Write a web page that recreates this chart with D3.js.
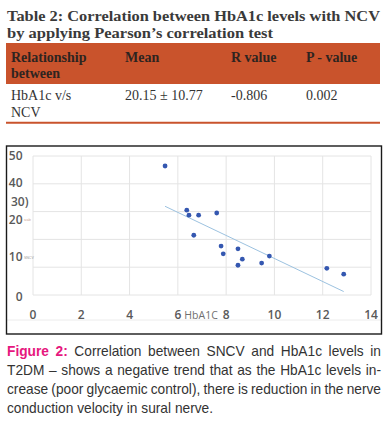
<!DOCTYPE html>
<html><head><meta charset="utf-8">
<script src="https://cdn.jsdelivr.net/npm/d3@7"></script>
<style>html,body{margin:0;padding:0;background:#fff;}svg{display:block;}</style>
</head><body>
<svg id="c" width="392" height="438"></svg>
<script>
// ---- data ----
const titleLines = ["Table 2: Correlation between HbA1c levels with NCV", "by applying Pearson\u2019s correlation test"];
const tableHeaders = [["Relationship", "between"], ["Mean"], ["R value"], ["P - value"]];
const tableRow = [["HbA1c v/s", "NCV"], ["20.15 \u00b1 10.77"], ["-0.806"], ["0.002"]];
const hba1c = [5.47, 6.37, 6.46, 6.86, 7.61, 6.66, 7.79, 7.88, 8.49, 8.67, 8.49, 9.47, 9.79, 12.17, 12.87];
const sncv  = [46.4, 30.5, 28.7, 28.7, 29.5, 21.5, 17.6, 14.8, 16.6, 12.9, 10.7, 11.5, 14.0, 9.6, 7.5];
const xTicks = [0, 2, 4, 6, 8, 10, 12, 14];
const yGrid = [0, 10, 20, 30, 40, 50];
const yTickLabels = ["0", "10", "20", "30)", "40", "50"];
const yTickLabelAt = [-0.7, 13.7, 27, 33.5, 40.3, 50];
const xAxisTitle = "HbA1C";
const captionLabel = "Figure 2:";
const captionLines = [
  "Correlation between SNCV and HbA1c levels in",
  "T2DM \u2013 shows a negative trend that as the HbA1c levels in-",
  "crease (poor glycaemic control), there is reduction in the nerve",
  "conduction velocity in sural nerve."
];

const svg = d3.select("#c");
const serif = "'Liberation Serif', 'DejaVu Serif', serif";
const sans = "'Liberation Sans', Arial, sans-serif";

// ---- title ----
svg.append("text").attr("x", 7).attr("y", 21).attr("font-family", serif)
  .attr("font-weight", "bold").attr("font-size", 14.5).attr("fill", "#3a3a3a")
  .attr("textLength", 373).attr("lengthAdjust", "spacingAndGlyphs").text(titleLines[0]);
svg.append("text").attr("x", 7).attr("y", 37.5).attr("font-family", serif)
  .attr("font-weight", "bold").attr("font-size", 14.5).attr("fill", "#3a3a3a")
  .attr("textLength", 266).attr("lengthAdjust", "spacingAndGlyphs").text(titleLines[1]);

// ---- table ----
const colX = [11, 125, 231, 306];
svg.append("rect").attr("x", 6).attr("y", 43).attr("width", 374).attr("height", 41).attr("fill", "#c9532c");
tableHeaders.forEach((lines, i) => {
  lines.forEach((s, j) => {
    svg.append("text").attr("x", colX[i]).attr("y", 62 + j * 15.5).attr("font-family", serif)
      .attr("font-weight", "bold").attr("font-size", 14).attr("fill", "#2e2420").text(s);
  });
});
tableRow.forEach((lines, i) => {
  lines.forEach((s, j) => {
    svg.append("text").attr("x", colX[i]).attr("y", 100 + j * 16.5).attr("font-family", serif)
      .attr("font-size", 14).attr("fill", "#333").text(s);
  });
});
svg.append("line").attr("x1", 6).attr("x2", 380).attr("y1", 122.7).attr("y2", 122.7)
  .attr("stroke", "#c9532c").attr("stroke-width", 2);

// ---- chart ----
const x = d3.scaleLinear().domain([0, 14]).range([33, 371]);
const y = d3.scaleLinear().domain([0, 50]).range([295, 156]);
const g = svg.append("g");
g.append("line").attr("x1", 7).attr("x2", 381).attr("y1", 320).attr("y2", 320).attr("stroke", "#ececec");
g.selectAll(".vg").data(xTicks).join("line")
  .attr("x1", d => x(d)).attr("x2", d => x(d)).attr("y1", y(50)).attr("y2", y(0))
  .attr("stroke", "#e4e4e4").attr("stroke-width", 1);
g.selectAll(".hg").data(yGrid).join("line")
  .attr("x1", x(0)).attr("x2", x(14)).attr("y1", d => y(d)).attr("y2", d => y(d))
  .attr("stroke", "#e4e4e4").attr("stroke-width", 1);

// y labels
g.selectAll(".yl").data(yTickLabels).join("text")
  .attr("x", (d) => d.endsWith(")") ? 28.5 : 22.5)
  .attr("y", (d, i) => y(yTickLabelAt[i]))
  .attr("dy", "0.36em").attr("text-anchor", "end")
  .attr("font-family", "'Open Sans', sans-serif").attr("font-weight", 600)
  .attr("font-size", 12).attr("fill", "#595959").text(d => d);
g.append("text").attr("x", 24).attr("y", y(27)).attr("dy", "0.5em").attr("font-family", sans)
  .attr("font-size", 3).attr("fill", "#c99a8a").text("scale");
g.append("text").attr("x", 24).attr("y", y(13.7)).attr("dy", "0.5em").attr("font-family", sans)
  .attr("font-size", 3.5).attr("fill", "#999").text("SNCV");

// x labels
g.selectAll(".xl").data(xTicks).join("text")
  .attr("x", d => x(d)).attr("y", 315).attr("dy", "0.36em").attr("text-anchor", "middle")
  .attr("font-family", "'Open Sans', sans-serif").attr("font-weight", 600)
  .attr("font-size", 12).attr("fill", "#595959").text(d => d);
g.append("text").attr("x", x(6) + 6.5).attr("y", 315).attr("dy", "0.36em")
  .attr("font-family", "'Open Sans', sans-serif").attr("font-size", 10.5)
  .attr("fill", "#6f6f6f").text(xAxisTitle);

// trend line (least squares)
const n = hba1c.length;
const mx = d3.mean(hba1c), my = d3.mean(sncv);
let sxy = 0, sxx = 0;
for (let i = 0; i < n; i++) { sxy += (hba1c[i] - mx) * (sncv[i] - my); sxx += (hba1c[i] - mx) ** 2; }
const slope = sxy / sxx, icpt = my - slope * mx;
const [x0, x1] = d3.extent(hba1c);
g.append("line").attr("x1", x(x0)).attr("y1", y(icpt + slope * x0))
  .attr("x2", x(x1)).attr("y2", y(icpt + slope * x1))
  .attr("stroke", "#9cc2e0").attr("stroke-width", 1);

// points
g.selectAll(".pt").data(hba1c).join("circle")
  .attr("cx", d => x(d)).attr("cy", (d, i) => y(sncv[i])).attr("r", 2.4)
  .attr("fill", "#3457b0");

// box
svg.append("rect").attr("x", 6.5).attr("y", 146).attr("width", 375).attr("height", 188)
  .attr("fill", "none").attr("stroke", "#1a1a1a").attr("stroke-width", 1.4);

// ---- caption (justified) ----
const capFs = 13;
const left = 7, right = 381;
const lineYs = [356, 375, 394, 413];
const probe = svg.append("text").attr("font-family", sans).attr("font-size", capFs).text(captionLines[3]);
const pw = probe.node().getComputedTextLength();
probe.remove();
const fs = capFs * 206 / pw;
captionLines.forEach((line, li) => {
  let words = line.split(" ").map(w => ({ t: w, bold: false }));
  if (li === 0) words = captionLabel.split(" ").map(w => ({ t: w, bold: true })).concat(words);
  const nodes = words.map(w => svg.append("text").attr("y", lineYs[li])
    .attr("font-family", sans).attr("font-size", fs.toFixed(2))
    .attr("font-weight", w.bold ? "bold" : "normal")
    .attr("fill", w.bold ? "#e6177e" : "#333").text(w.t));
  const widths = nodes.map(nd => nd.node().getComputedTextLength());
  const total = d3.sum(widths);
  const justify = li < captionLines.length - 1;
  const gap = justify ? (right - left - total) / (nodes.length - 1) : fs * 0.28;
  let cx = left;
  nodes.forEach((nd, i) => { nd.attr("x", cx); cx += widths[i] + gap; });
});
</script>
</body></html>
